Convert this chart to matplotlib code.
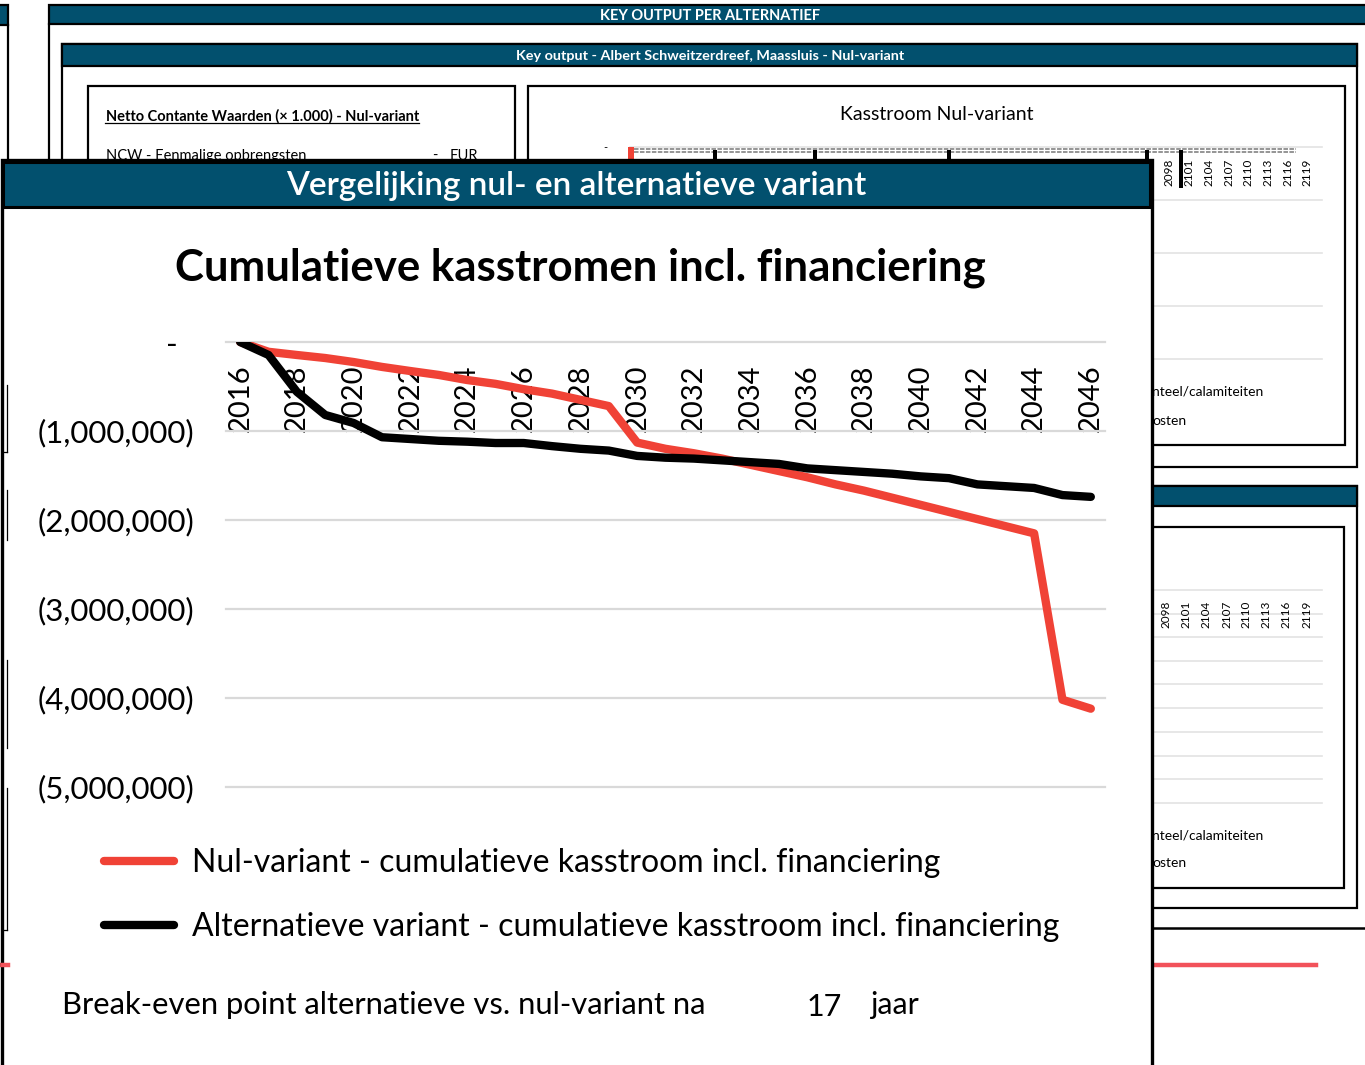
import numpy as np
import matplotlib
matplotlib.use('Agg')
import matplotlib.pyplot as plt
from matplotlib.patches import Rectangle

plt.rcParams['font.family'] = ['Lato', 'DejaVu Sans']

# data
years = list(range(2016, 2047))
nul_variant = [0, -0.11, -0.146, -0.18, -0.225, -0.28, -0.326, -0.37, -0.427, -0.47,
               -0.53, -0.58, -0.65, -0.72, -1.13, -1.20, -1.25, -1.31, -1.38, -1.45,
               -1.52, -1.60, -1.67, -1.75, -1.83, -1.91, -1.99, -2.07, -2.15, -4.02, -4.12]
alternatief = [0, -0.146, -0.56, -0.82, -0.91, -1.07, -1.09, -1.11, -1.12, -1.135,
               -1.135, -1.17, -1.20, -1.22, -1.28, -1.30, -1.31, -1.33, -1.35, -1.37,
               -1.42, -1.44, -1.46, -1.48, -1.51, -1.53, -1.60, -1.62, -1.64, -1.72, -1.74]
nul_variant = np.array(nul_variant) * 1e6
alternatief = np.array(alternatief) * 1e6

ytick_values = [0, -1e6, -2e6, -3e6, -4e6, -5e6]
ytick_labels = ['-  ', '(1,000,000)', '(2,000,000)', '(3,000,000)', '(4,000,000)', '(5,000,000)']
series_labels = ['Nul-variant - cumulatieve kasstroom incl. financiering',
                 'Alternatieve variant - cumulatieve kasstroom incl. financiering']
break_even_years = 17

bg_years = ['2098', '2101', '2104', '2107', '2110', '2113', '2116', '2119']

W, H = 1365, 1065
teal = '#02506E'
red = '#F04236'
black = '#000000'
grid_c = '#D9D9D9'

fig = plt.figure(figsize=(W / 100, H / 100), dpi=100)
bg = fig.add_axes([0, 0, 1, 1])
bg.set_xlim(0, W)
bg.set_ylim(H, 0)
bg.axis('off')


def box(x0, y0, x1, y1, fc='none', ec=black, lw=1.6, z=1):
    bg.add_patch(Rectangle((x0, y0), x1 - x0, y1 - y0, fc=fc, ec=ec, lw=lw, zorder=z))


# ---- background sheet ----
box(-5, 5, 8, 25, fc=teal)
bg.plot([8, 8], [25, 170], color=black, lw=1.6, zorder=1)
box(49, 5, 1370, 24, fc=teal)
bg.text(710, 15.5, 'KEY OUTPUT PER ALTERNATIEF', color='white', fontsize=10.5,
        fontweight='bold', ha='center', va='center', zorder=2)
bg.plot([49, 49], [24, 170], color=black, lw=1.6, zorder=1)

box(62, 44, 1357, 467)
box(62, 44, 1357, 66, fc=teal)
bg.text(710, 56, 'Key output - Albert Schweitzerdreef, Maassluis - Nul-variant',
        color='white', fontsize=10.4, fontweight='bold', ha='center', va='center', zorder=2)

box(88, 86, 515, 480)
bg.text(106, 116, 'Netto Contante Waarden (\u00d7 1.000) - Nul-variant', fontsize=10.5,
        fontweight='bold', ha='left', va='center', zorder=2)
bg.plot([105, 419], [123, 123], color=black, lw=0.9, zorder=2)
bg.text(106, 156, 'NCW - Eenmalige opbrengsten', fontsize=10.5, ha='left', va='center', zorder=2)
bg.text(432, 156, '-', fontsize=10.5, ha='left', va='center', zorder=2)
bg.text(450, 156, 'EUR', fontsize=10.5, ha='left', va='center', zorder=2)

box(528, 86, 1345, 445)
bg.text(937, 115, 'Kasstroom Nul-variant', fontsize=14, ha='center', va='center', zorder=2)
bg.text(605, 148, '-', fontsize=8, ha='center', va='center', zorder=2)
for gy in [147, 200, 253, 306, 359]:
    bg.plot([630, 1322], [gy, gy], color='#E3E3E3', lw=1.2, zorder=1)
for gy in [148.5, 152]:
    bg.plot([634, 1296], [gy, gy], color='#8C8C8C', lw=1.3, dashes=(2.5, 0.8), zorder=1)
box(628, 147, 634, 165, fc=red, ec='none', lw=0)
for bx in [715, 815, 949, 1147]:
    box(bx - 2, 150, bx + 2, 168, fc=black, ec='none', lw=0)
box(1179, 150, 1183, 188, fc=black, ec='none', lw=0)
for lab, tx in zip(bg_years, [1169, 1189, 1209, 1229, 1248, 1268, 1288, 1307]):
    bg.text(tx, 172, lab, fontsize=8.5, rotation=90, ha='center', va='center', zorder=2)
bg.text(1152, 392, 'nteel/calamiteiten', fontsize=10, ha='left', va='center', zorder=2)
bg.text(1152, 421, 'osten', fontsize=10, ha='left', va='center', zorder=2)

box(62, 486, 1357, 908)
box(62, 486, 1357, 506, fc=teal)
box(88, 527, 1344, 888)
for gy in [590, 614, 637, 661, 684, 708, 732, 756, 779, 803]:
    bg.plot([630, 1322], [gy, gy], color='#E3E3E3', lw=1.2, zorder=1)
for lab, tx in zip(bg_years, [1166, 1186, 1206, 1227, 1246, 1266, 1286, 1307]):
    bg.text(tx, 614, lab, fontsize=8.5, rotation=90, ha='center', va='center', zorder=2)
bg.text(1152, 835, 'nteel/calamiteiten', fontsize=10, ha='left', va='center', zorder=2)
bg.text(1152, 863, 'osten', fontsize=10, ha='left', va='center', zorder=2)
bg.plot([1152, 1370], [928, 928], color=black, lw=1.8, zorder=1)
bg.plot([0, 1316], [965, 965], color='#F2525A', lw=3.2, zorder=1)

# ---- front panel ----
box(1.5, 160, 1151.5, 1075, fc='white', ec=black, lw=2.4, z=5)
box(3, 162, 1150, 207, fc=teal, ec=black, lw=2.2, z=6)
bg.text(576, 186, 'Vergelijking nul- en alternatieve variant', color='white',
        fontsize=24, fontweight='semibold', ha='center', va='center', zorder=7)
bg.text(580, 268, 'Cumulatieve kasstromen incl. financiering', fontsize=31.5,
        fontweight='bold', ha='center', va='center', zorder=7)
for y0, y1 in [(385, 452), (490, 540), (660, 748), (788, 930)]:
    bg.plot([7, 7], [y0, y1], color=black, lw=0.9, zorder=8)
bg.plot([3, 7], [452, 452], color=black, lw=0.9, zorder=8)
bg.plot([3, 7], [930, 930], color=black, lw=0.9, zorder=8)
bg.plot([3, 8], [965, 965], color='#F2525A', lw=3.2, zorder=8)

bg.text(62, 1005, 'Break-even point alternatieve vs. nul-variant na', fontsize=22.3,
        ha='left', va='center', zorder=7)
bg.text(842, 1007, str(break_even_years), fontsize=22, ha='right', va='center', zorder=7)
bg.text(870, 1005, 'jaar', fontsize=22, ha='left', va='center', zorder=7)

# ---- main chart ----
ax = fig.add_axes([226 / W, 1 - 787 / H, 879 / W, 445 / H])
ax.set_facecolor('none')
x = np.arange(len(years))
l1, = ax.plot(x, nul_variant, color=red, lw=6, solid_capstyle='round',
              solid_joinstyle='round', zorder=3)
l2, = ax.plot(x, alternatief, color=black, lw=6, solid_capstyle='round',
              solid_joinstyle='round', zorder=4)
ax.set_xlim(-0.5, len(years) - 0.5)
ax.set_ylim(-5e6, 0)
ax.set_yticks(ytick_values)
ax.set_yticklabels(ytick_labels, fontsize=22.5)
ax.tick_params(axis='y', length=0, pad=23)
ax.yaxis.grid(True, color=grid_c, lw=1.6)
for gl in ax.get_ygridlines():
    gl.set_clip_on(False)
ax.set_axisbelow(True)
for sp in ax.spines.values():
    sp.set_visible(False)
ax.spines['bottom'].set_position(('data', 0))
ax.set_xticks(x[::2])
ax.set_xticklabels([str(y) for y in years[::2]], rotation=90, fontsize=21)
ax.tick_params(axis='x', length=0, pad=16)

fig.legend([l1, l2], series_labels, loc='upper left', bbox_to_anchor=(104, 848),
           bbox_transform=bg.transData, frameon=False, fontsize=23,
           handlelength=2.19, handletextpad=0.56, labelspacing=1.08,
           borderpad=0, borderaxespad=0)

fig.savefig('out.png', dpi=100)
